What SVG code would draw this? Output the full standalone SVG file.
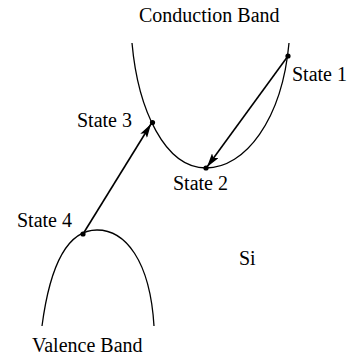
<svg xmlns="http://www.w3.org/2000/svg" width="350" height="358" viewBox="0 0 350 358">
<defs>
<style>
text{font-family:"Liberation Serif","Times New Roman",serif;fill:#000;font-size:20px}
.band{fill:none;stroke:#000;stroke-width:1.3}
.arr{fill:none;stroke:#000;stroke-width:1.6}
.dot{fill:#000}
</style>
<marker id="ah" viewBox="0 0 14 8" refX="14" refY="4" markerWidth="14" markerHeight="8" markerUnits="userSpaceOnUse" orient="auto">
<path d="M0,0 L14,4 L0,8 L3,4 Z" fill="#000"/>
</marker>
</defs>
<rect width="350" height="358" fill="#fff"/>
<g id="conduction-band">
<path class="band" d="M132,43 C138,110 165,168 206,168 C245,168 282,120 289,43"/>
<text x="139" y="22" font-size="21">Conduction Band</text>
</g>
<g id="valence-band">
<path class="band" d="M42,326 C52,250 75,230 97,230 C125,230 150,260 154,326"/>
<text x="32" y="352" font-size="21">Valence Band</text>
</g>
<g id="connectors">
<line class="arr" x1="83" y1="234" x2="151" y2="124" marker-end="url(#ah)"/>
<line class="arr" x1="288" y1="56" x2="207" y2="167" marker-end="url(#ah)"/>
</g>
<g id="state1">
<circle class="dot" cx="288" cy="56" r="2.6"/>
<text x="292" y="81">State 1</text>
</g>
<g id="state2">
<circle class="dot" cx="206" cy="168" r="2.6"/>
<text x="173" y="190">State 2</text>
</g>
<g id="state3">
<circle class="dot" cx="152.5" cy="122.5" r="2.6"/>
<text x="77" y="127">State 3</text>
</g>
<g id="state4">
<circle class="dot" cx="83" cy="234" r="2.6"/>
<text x="17" y="227">State 4</text>
</g>
<g id="si">
<text x="239" y="265" font-size="24">Si</text>
</g>
</svg>
